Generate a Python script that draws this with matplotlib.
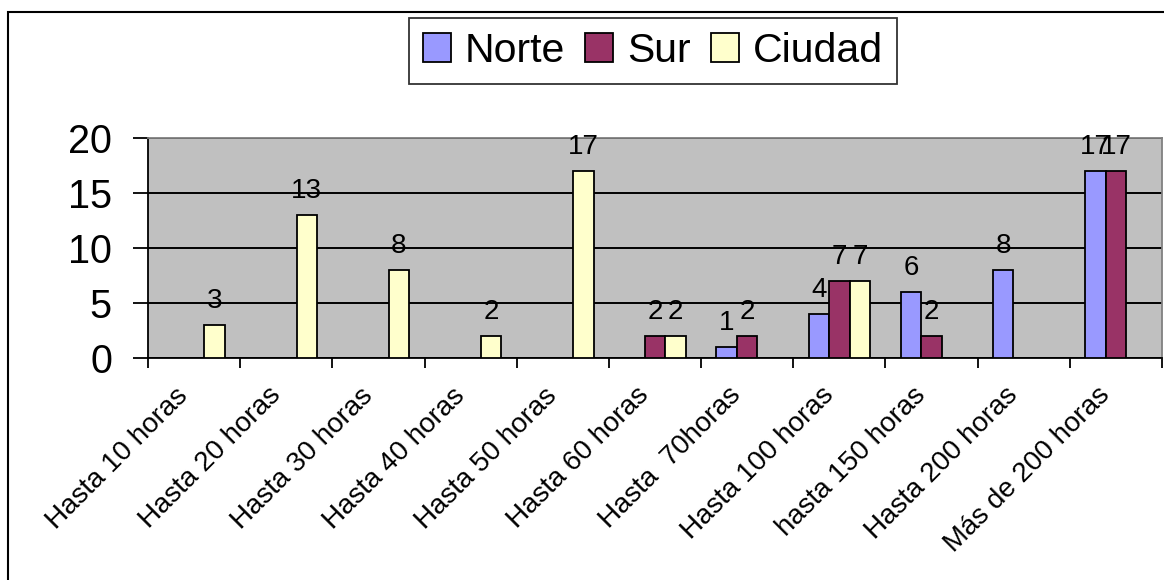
import matplotlib
matplotlib.use("Agg")
import matplotlib.pyplot as plt
from matplotlib.patches import Rectangle, Patch
from matplotlib.transforms import ScaledTranslation
import numpy as np

plt.rcParams['font.family'] = ['Liberation Sans', 'DejaVu Sans']

categories = ["Hasta 10 horas", "Hasta 20 horas", "Hasta 30 horas", "Hasta 40 horas",
              "Hasta 50 horas", "Hasta 60 horas", "Hasta  70horas", "Hasta 100 horas",
              "hasta 150 horas", "Hasta 200 horas", "Más de 200 horas"]
series_names = ["Norte", "Sur", "Ciudad"]
norte = [0, 0, 0, 0, 0, 0, 1, 4, 6, 8, 17]
sur = [0, 0, 0, 0, 0, 2, 2, 7, 2, 0, 17]
ciudad = [3, 13, 8, 2, 17, 2, 0, 7, 0, 0, 0]
colors = ["#9999FF", "#993366", "#FFFFCC"]
yticks = [0, 5, 10, 15, 20]

W, H = 1164, 580
fig = plt.figure(figsize=(W / 100, H / 100), dpi=100)

# outer chart frame (cut off at right/bottom)
fig.patches.append(Rectangle((8 / W, 1 - 12 / H - (600 / H)), 1200 / W, 600 / H,
                             transform=fig.transFigure, fill=False,
                             edgecolor='black', linewidth=1.5))

ax = fig.add_axes([148 / W, 1 - 358 / H, 1014 / W, 220 / H])
ax.set_facecolor('#C0C0C0')

x = np.arange(len(categories)) + 0.5
bw = 1 / 4.5
for i, (name, vals, c) in enumerate(zip(series_names, [norte, sur, ciudad], colors)):
    pos = x + (i - 1) * bw
    ax.bar(pos, vals, width=bw, color=c, edgecolor='black', linewidth=1.3,
           label=name, zorder=3)
    for p, v in zip(pos, vals):
        if v:
            ax.annotate(str(v), (p, v), xytext=(0, 17), textcoords='offset points',
                        ha='center', va='center', fontsize=20, zorder=4)

ax.set_xlim(0, len(categories))
ax.set_ylim(0, 20)
ax.set_yticks(yticks)
ax.set_yticklabels([str(t) for t in yticks], fontsize=28.5)
ax.set_xticks(np.arange(len(categories) + 1))
ax.set_xticklabels([])
ax.set_xticks(x, minor=True)
ax.set_xticklabels(categories, minor=True, rotation=45, ha='right',
                   rotation_mode='anchor', fontsize=20)
ax.tick_params(axis='x', which='minor', length=0, pad=14)
ax.tick_params(axis='x', which='major', length=7.5, width=1.3, direction='out')
ax.tick_params(axis='y', length=11, width=1.3, direction='out', pad=15)
shift = ScaledTranslation(-19 / 100, -5 / 100, fig.dpi_scale_trans)
for lab in ax.get_xticklabels(minor=True):
    lab.set_transform(lab.get_transform() + shift)
ax.grid(axis='y', color='black', linewidth=1.4, zorder=1)
ax.set_axisbelow(True)

for s in ['top', 'right']:
    ax.spines[s].set_color('#808080')
    ax.spines[s].set_linewidth(1.3)
for s in ['left', 'bottom']:
    ax.spines[s].set_color('black')
    ax.spines[s].set_linewidth(1.3)

handles = [Patch(facecolor=c, edgecolor='black', linewidth=1.3) for c in colors]
leg = fig.legend(handles, series_names, loc='center', bbox_to_anchor=(653 / W, 1 - 51 / H),
                 ncol=3, fontsize=29.5, frameon=True, fancybox=False, shadow=False,
                 handlelength=0.68, handleheight=0.72, handletextpad=0.34,
                 columnspacing=0.49, borderpad=0.35, borderaxespad=0)
leg.get_frame().set_edgecolor('black')
leg.get_frame().set_linewidth(1.3)

fig.savefig('out.png', dpi=100)
